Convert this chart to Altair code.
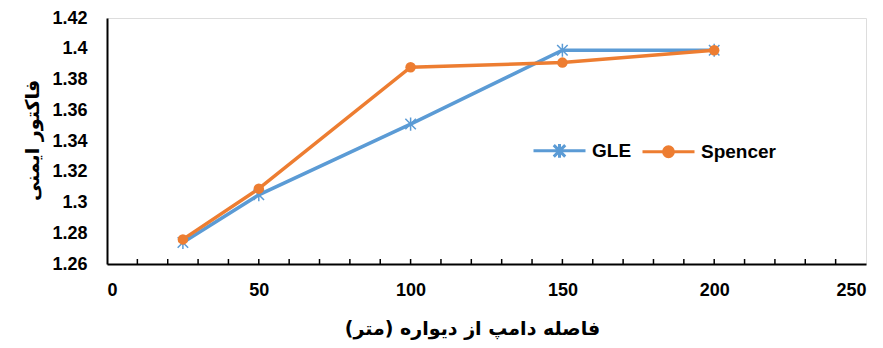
import altair as alt
import pandas as pd

# distances (m)
distance = [25, 50, 100, 150, 200]
gle = [1.274, 1.305, 1.351, 1.399, 1.399]
spencer = [1.276, 1.309, 1.388, 1.391, 1.399]
series_names = ["GLE", "Spencer"]
x_ticks = [0, 50, 100, 150, 200, 250]
y_ticks = [1.26, 1.28, 1.30, 1.32, 1.34, 1.36, 1.38, 1.40, 1.42]
minor_ticks = [10, 20, 30, 40, 50, 60, 70, 80, 90, 100, 110, 120,
               130, 140, 150, 160, 170, 180, 190, 200, 210, 220, 230, 240]

BLUE = "#5B9BD5"
ORANGE = "#ED7D31"
NUM_FONT = "Liberation Sans"
AR_FONT = "DejaVu Sans"

rows = []
for d, v in zip(distance, gle):
    rows.append({"d": d, "v": v, "s": "GLE"})
for d, v in zip(distance, spencer):
    rows.append({"d": d, "v": v, "s": "Spencer"})
df = pd.DataFrame(rows)

W, H = 759, 246

xscale = alt.Scale(domain=[0, 250], nice=False, zero=False)
yscale = alt.Scale(domain=[1.26, 1.42], nice=False, zero=False)
cscale = alt.Scale(domain=series_names, range=[BLUE, ORANGE])

ASTER = "M-1,-1L1,1M-1,1L1,-1M0,-1.25V1.25"

GLE_LEG = "M-1,0H1M-0.22,-0.22L0.22,0.22M-0.22,0.22L0.22,-0.22M0,-0.26V0.26"
SP_LEG = "M-1,0H1M-0.19,0A0.19,0.19,0,1,0,0.19,0A0.19,0.19,0,1,0,-0.19,0Z"

x_axis = alt.Axis(
    values=x_ticks, ticks=False, grid=False, format="d",
    domainColor="black", domainWidth=2,
    labelFont=NUM_FONT, labelFontSize=18, labelFontWeight="bold",
    labelColor="black", labelPadding=17,
    title="فاصله دامپ از دیواره (متر)",
    titleFont=AR_FONT, titleFontSize=19, titleFontWeight="bold",
    titleColor="black", titleX=365, titleY=70, titleBaseline="alphabetic",
)
y_axis = alt.Axis(
    values=y_ticks, ticks=False, grid=False, labelOverlap=False,
    labelExpr="format(datum.value, '.2~f')",
    domainColor="black", domainWidth=2,
    labelFont=NUM_FONT, labelFontSize=18, labelFontWeight="bold",
    labelColor="black", labelPadding=20,
    title="فاکتور ایمنی",
    titleFont=AR_FONT, titleFontSize=19, titleFontWeight="bold",
    titleColor="black", titleAngle=270, titleX=-75, titleY=122,
    titleBaseline="middle", titleAlign="center",
)

x_enc = alt.X("d:Q", scale=xscale, axis=x_axis)
y_enc = alt.Y("v:Q", scale=yscale, axis=y_axis)

legend = alt.Legend(
    orient="none", legendX=425, legendY=105, direction="horizontal",
    title=None, symbolSize=2704, symbolStrokeWidth=3,
    symbolType=alt.ExprRef(expr=f"datum.value === 'GLE' ? '{GLE_LEG}' : '{SP_LEG}'"),
    symbolStrokeColor=alt.ExprRef(expr=f"datum.value === 'GLE' ? '{BLUE}' : '{ORANGE}'"),
    symbolFillColor=alt.ExprRef(expr=f"datum.value === 'GLE' ? '{BLUE}' : '{ORANGE}'"),
    labelFont=NUM_FONT, labelFontSize=19, labelFontWeight="bold",
    labelColor="black", labelOffset=5, columnPadding=4, padding=0,
)

lines = alt.Chart(df).mark_line(strokeWidth=3.5).encode(
    x=x_enc, y=y_enc,
    color=alt.Color("s:N", scale=cscale, legend=legend),
)

pts_gle = alt.Chart(df).transform_filter("datum.s === 'GLE'").mark_point(
    shape=ASTER, filled=False, color=BLUE, strokeWidth=1.5, size=110, opacity=1
).encode(x=x_enc, y=y_enc)

pts_sp = alt.Chart(df).transform_filter("datum.s === 'Spencer'").mark_point(
    shape="circle", filled=True, color=ORANGE, size=110, opacity=1
).encode(x=x_enc, y=y_enc)

tick_df = pd.DataFrame({"t": minor_ticks})
ticks = alt.Chart(tick_df).mark_rule(color="black", strokeWidth=1.5).encode(
    x=alt.X("t:Q", scale=xscale, axis=x_axis),
    y=alt.value(H),
    y2=alt.value(H - 5),
)

chart = alt.layer(lines, ticks, pts_gle, pts_sp).properties(
    width=W, height=H,
    autosize=alt.AutoSizeParams(type="none"),
    padding={"left": 99, "top": 10, "right": 9, "bottom": 76},
).configure_view(stroke="black", strokeWidth=1).configure(background="white")

chart.save("out.html", embed_options={"renderer": "svg", "actions": False})
